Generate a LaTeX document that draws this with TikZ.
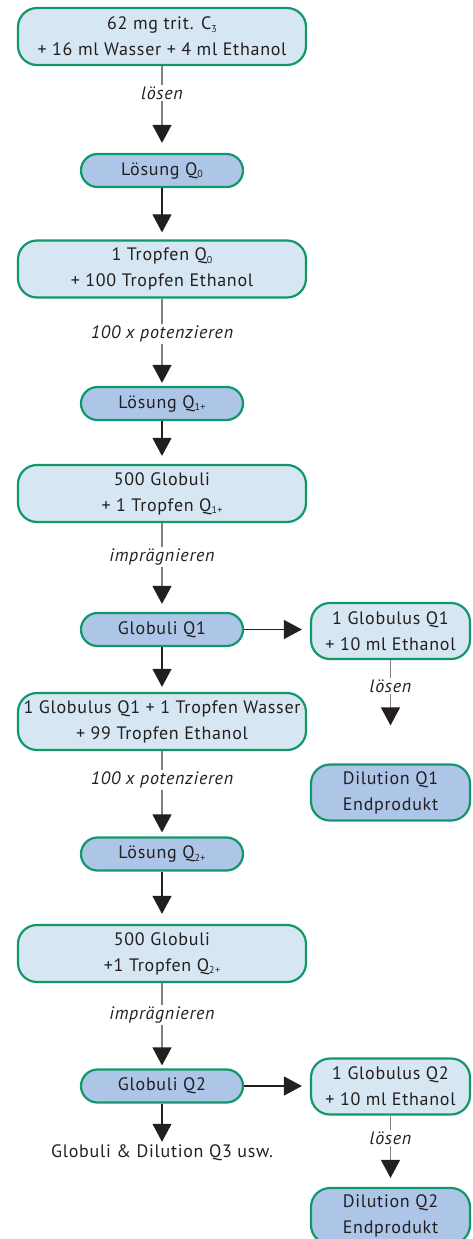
\documentclass[tikz,border=0pt]{standalone}
\usepackage{fontspec}
\setmainfont[LetterSpace=4]{PT Sans}
\usetikzlibrary{arrows.meta}
\definecolor{bgreen}{RGB}{16,152,106}
\definecolor{lfill}{RGB}{214,231,243}
\definecolor{dfill}{RGB}{173,198,232}
\definecolor{txt}{RGB}{35,31,32}
\definecolor{lgray}{RGB}{128,128,128}
\newcommand\subq[1]{\raisebox{-2.6pt}{\fontsize{10}{10}\selectfont #1}}
\begin{document}
\begin{tikzpicture}[x=1pt,y=-1pt,
  every node/.style={font=\fontsize{18}{26}\selectfont, text=txt},
  bigbox/.style={draw=bgreen, line width=2.2pt, rounded corners=19pt, fill=lfill,
    minimum width=288pt, minimum height=57pt, align=center, inner sep=0pt},
  pill/.style={draw=bgreen, line width=2.2pt, rounded corners=16.5pt, fill=dfill,
    minimum width=162pt, minimum height=33pt, align=center, inner sep=0pt},
  sidebox/.style={draw=bgreen, line width=2.2pt, rounded corners=19pt, fill=lfill,
    minimum width=159pt, minimum height=56pt, align=center, inner sep=0pt},
  sideend/.style={sidebox, fill=dfill},
  lbl/.style={fill=white, inner sep=1.5pt, font=\fontsize{18}{26}\selectfont\itshape},
  conn/.style={draw=lgray, line width=1.4pt, -{Triangle[width=19pt,length=18pt,color=txt]}},
  connd/.style={draw=txt, line width=1.1pt, -{Triangle[width=19pt,length=18pt,color=txt]}}
]
\useasboundingbox (0,0) rectangle (472,1239);

% main column
\node[bigbox] (top) at (162,36.5) {62 mg trit. C\subq{3}\\+ 16 ml Wasser + 4 ml Ethanol};
\node[pill] (q0) at (162,170.5) {Lösung Q\subq{0}};
\node[bigbox] (tr1) at (162,269) {1 Tropfen Q\subq{0}\\+ 100 Tropfen Ethanol};
\node[pill] (q1p) at (162,403.5) {Lösung Q\subq{1+}};
\node[bigbox] (ga) at (162,493.5) {500 Globuli\\+ 1 Tropfen Q\subq{1+}};
\node[pill] (gq1) at (162,629.5) {Globuli Q1};
\node[bigbox] (wq1) at (162,721.5) {1 Globulus Q1 + 1 Tropfen Wasser\\+ 99 Tropfen Ethanol};
\node[pill] (q2p) at (162,854) {Lösung Q\subq{2+}};
\node[bigbox] (gb) at (162,953.5) {500 Globuli\\+1 Tropfen Q\subq{2+}};
\node[pill] (gq2) at (162,1086) {Globuli Q2};
\node[inner sep=2pt] (q3) at (162,1153) {Globuli \& Dilution Q3 usw.};

% side column
\node[sidebox] (r1) at (390.5,631) {1 Globulus Q1\\+ 10 ml Ethanol};
\node[sideend] (d1) at (390.5,792.5) {Dilution Q1\\Endprodukt};
\node[sidebox] (r2) at (390.5,1086.5) {1 Globulus Q2\\+ 10 ml Ethanol};
\node[sideend] (d2) at (390.5,1216) {Dilution Q2\\Endprodukt};

% connectors
\draw[conn, shorten >=10pt] (top.south) -- (q0.north);
\draw[connd, shorten >=7pt] (q0.south) -- (tr1.north);
\draw[conn, shorten >=3pt] (tr1.south) -- (q1p.north);
\draw[connd, shorten >=8pt] (q1p.south) -- (ga.north);
\draw[conn, shorten >=8pt] (ga.south) -- (gq1.north);
\draw[connd, shorten >=5pt] (gq1.south) -- (wq1.north);
\draw[conn, shorten >=4pt] (wq1.south) -- (q2p.north);
\draw[connd, shorten >=10pt] (q2p.south) -- (gb.north);
\draw[conn, shorten >=3pt] (gb.south) -- (gq2.north);
\draw[connd, shorten >=1pt] (gq2.south) -- (q3.north);
\draw[connd, shorten >=8pt] (gq1.east) -- (gq1.east -| r1.west);
\draw[connd, shorten >=8pt] (gq2.east) -- (gq2.east -| r2.west);
\draw[conn, shorten >=38pt] (r1.south) -- (d1.north);
\draw[conn, shorten >=9pt] (r2.south) -- (d2.north);

% labels
\node[lbl] (l1) at (162,93) {lösen};
\node[lbl] (l2) at (162,334) {100 x potenzieren};
\node[lbl] (l3) at (162,557) {imprägnieren};
\node[lbl] (l4) at (162,780) {100 x potenzieren};
\node[lbl] (l5) at (162,1015) {imprägnieren};
\node[lbl] (l6) at (390.5,686) {lösen};
\node[lbl] (l7) at (390.5,1138) {lösen};
\end{tikzpicture}
\end{document}
